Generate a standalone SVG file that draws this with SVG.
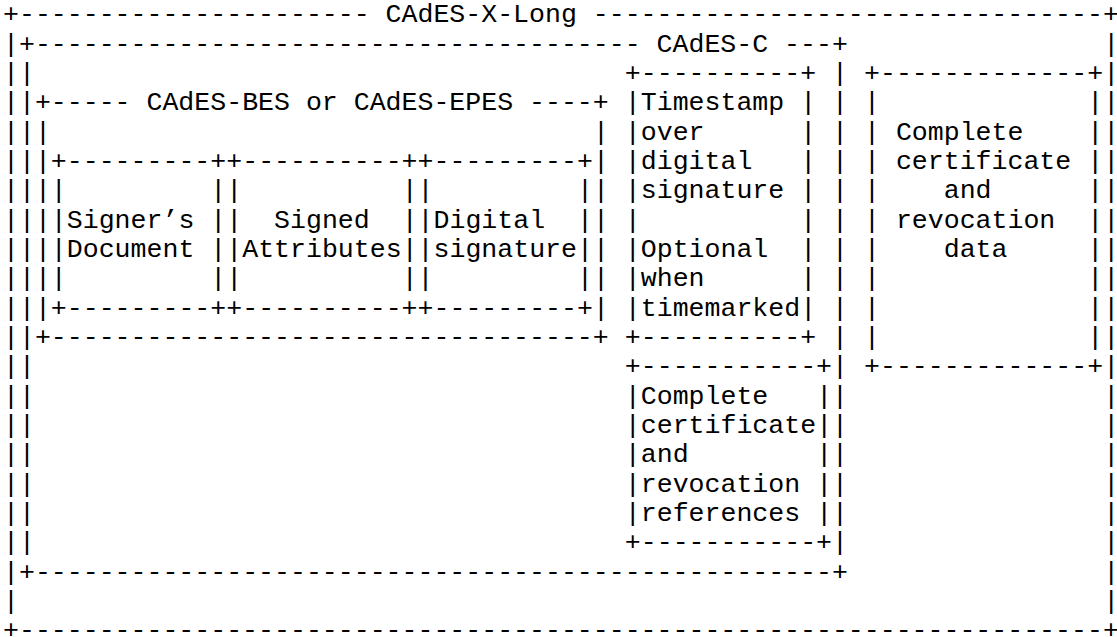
<svg xmlns="http://www.w3.org/2000/svg" width="1117" height="637" viewBox="0 0 1117 637">
<style>
text { font-family: "Courier New", "Liberation Mono", monospace; font-size: 26.57px; fill: #000; white-space: pre; }
</style>
<rect width="1117" height="637" fill="#fff"/>
<g id="cades-x-long">
<text x="3.03" y="22.4" xml:space="preserve">+---------------------- CAdES-X-Long --------------------------------+</text>
<text x="3.03" y="638.33">+--------------------------------------------------------------------+</text>
<text x="3.03 3.03 3.03 3.03 3.03 3.03 3.03 3.03 3.03 3.03 3.03 3.03 3.03 3.03 3.03 3.03 3.03 3.03 3.03 3.03" y="51.73 81.06 110.39 139.72 169.05 198.38 227.71 257.04 286.37 315.70 345.03 374.36 403.69 433.02 462.35 491.68 521.01 550.34 579.67 609.00">||||||||||||||||||||</text>
<text x="1103.17 1103.17 1103.17 1103.17 1103.17 1103.17 1103.17 1103.17 1103.17 1103.17 1103.17 1103.17 1103.17 1103.17 1103.17 1103.17 1103.17 1103.17 1103.17 1103.17" y="51.73 81.06 110.39 139.72 169.05 198.38 227.71 257.04 286.37 315.70 345.03 374.36 403.69 433.02 462.35 491.68 521.01 550.34 579.67 609.00">||||||||||||||||||||</text>
</g>
<g id="cades-c">
<text x="18.97" y="51.73" xml:space="preserve">+-------------------------------------- CAdES-C ---+</text>
<text x="18.97" y="579.67">+--------------------------------------------------+</text>
<text x="18.97 18.97 18.97 18.97 18.97 18.97 18.97 18.97 18.97 18.97 18.97 18.97 18.97 18.97 18.97 18.97 18.97" y="81.06 110.39 139.72 169.05 198.38 227.71 257.04 286.37 315.70 345.03 374.36 403.69 433.02 462.35 491.68 521.01 550.34">|||||||||||||||||</text>
<text x="832.12 832.12 832.12 832.12 832.12 832.12 832.12 832.12 832.12 832.12 832.12 832.12 832.12 832.12 832.12 832.12 832.12" y="81.06 110.39 139.72 169.05 198.38 227.71 257.04 286.37 315.70 345.03 374.36 403.69 433.02 462.35 491.68 521.01 550.34">|||||||||||||||||</text>
</g>
<g id="cades-bes-epes">
<text x="34.92" y="110.39" xml:space="preserve">+----- CAdES-BES or CAdES-EPES ----+</text>
<text x="34.92" y="345.03">+----------------------------------+</text>
<text x="34.92 34.92 34.92 34.92 34.92 34.92 34.92" y="139.72 169.05 198.38 227.71 257.04 286.37 315.70">|||||||</text>
<text x="592.96 592.96 592.96 592.96 592.96 592.96 592.96" y="139.72 169.05 198.38 227.71 257.04 286.37 315.70">|||||||</text>
</g>
<g id="signers-document">
<text x="50.86" y="169.05">+---------+</text>
<text x="50.86" y="315.70">+---------+</text>
<text x="50.86 50.86 50.86 50.86" y="198.38 227.71 257.04 286.37">||||</text>
<text x="210.30 210.30 210.30 210.30" y="198.38 227.71 257.04 286.37">||||</text>
<text x="66.81" y="227.71">Signer’s</text>
<text x="66.81" y="257.04">Document</text>
</g>
<g id="signed-attributes">
<text x="226.25" y="169.05">+----------+</text>
<text x="226.25" y="315.70">+----------+</text>
<text x="226.25 226.25 226.25 226.25" y="198.38 227.71 257.04 286.37">||||</text>
<text x="401.63 401.63 401.63 401.63" y="198.38 227.71 257.04 286.37">||||</text>
<text x="274.08" y="227.71">Signed</text>
<text x="242.19" y="257.04">Attributes</text>
</g>
<g id="digital-signature">
<text x="417.57" y="169.05">+---------+</text>
<text x="417.57" y="315.70">+---------+</text>
<text x="417.57 417.57 417.57 417.57" y="198.38 227.71 257.04 286.37">||||</text>
<text x="577.02 577.02 577.02 577.02" y="198.38 227.71 257.04 286.37">||||</text>
<text x="433.52" y="227.71">Digital</text>
<text x="433.52" y="257.04">signature</text>
</g>
<g id="timestamp">
<text x="624.85" y="81.06">+----------+</text>
<text x="624.85" y="345.03">+----------+</text>
<text x="624.85 624.85 624.85 624.85 624.85 624.85 624.85 624.85" y="110.39 139.72 169.05 198.38 227.71 257.04 286.37 315.70">||||||||</text>
<text x="800.23 800.23 800.23 800.23 800.23 800.23 800.23 800.23" y="110.39 139.72 169.05 198.38 227.71 257.04 286.37 315.70">||||||||</text>
<text x="640.79" y="110.39">Timestamp</text>
<text x="640.79" y="139.72">over</text>
<text x="640.79" y="169.05">digital</text>
<text x="640.79" y="198.38">signature</text>
<text x="640.79" y="257.04">Optional</text>
<text x="640.79" y="286.37">when</text>
<text x="640.79" y="315.70">timemarked</text>
</g>
<g id="revocation-references">
<text x="624.85" y="374.36">+-----------+</text>
<text x="624.85" y="550.34">+-----------+</text>
<text x="624.85 624.85 624.85 624.85 624.85" y="403.69 433.02 462.35 491.68 521.01">|||||</text>
<text x="816.17 816.17 816.17 816.17 816.17" y="403.69 433.02 462.35 491.68 521.01">|||||</text>
<text x="640.79" y="403.69">Complete</text>
<text x="640.79" y="433.02">certificate</text>
<text x="640.79" y="462.35">and</text>
<text x="640.79" y="491.68">revocation</text>
<text x="640.79" y="521.01">references</text>
</g>
<g id="revocation-data">
<text x="864.01" y="81.06">+-------------+</text>
<text x="864.01" y="374.36">+-------------+</text>
<text x="864.01 864.01 864.01 864.01 864.01 864.01 864.01 864.01 864.01" y="110.39 139.72 169.05 198.38 227.71 257.04 286.37 315.70 345.03">|||||||||</text>
<text x="1087.22 1087.22 1087.22 1087.22 1087.22 1087.22 1087.22 1087.22 1087.22" y="110.39 139.72 169.05 198.38 227.71 257.04 286.37 315.70 345.03">|||||||||</text>
<text x="895.89" y="139.72">Complete</text>
<text x="895.89" y="169.05">certificate</text>
<text x="943.73" y="198.38">and</text>
<text x="895.89" y="227.71">revocation</text>
<text x="943.73" y="257.04">data</text>
</g>
<g id="connectors"/>
</svg>
